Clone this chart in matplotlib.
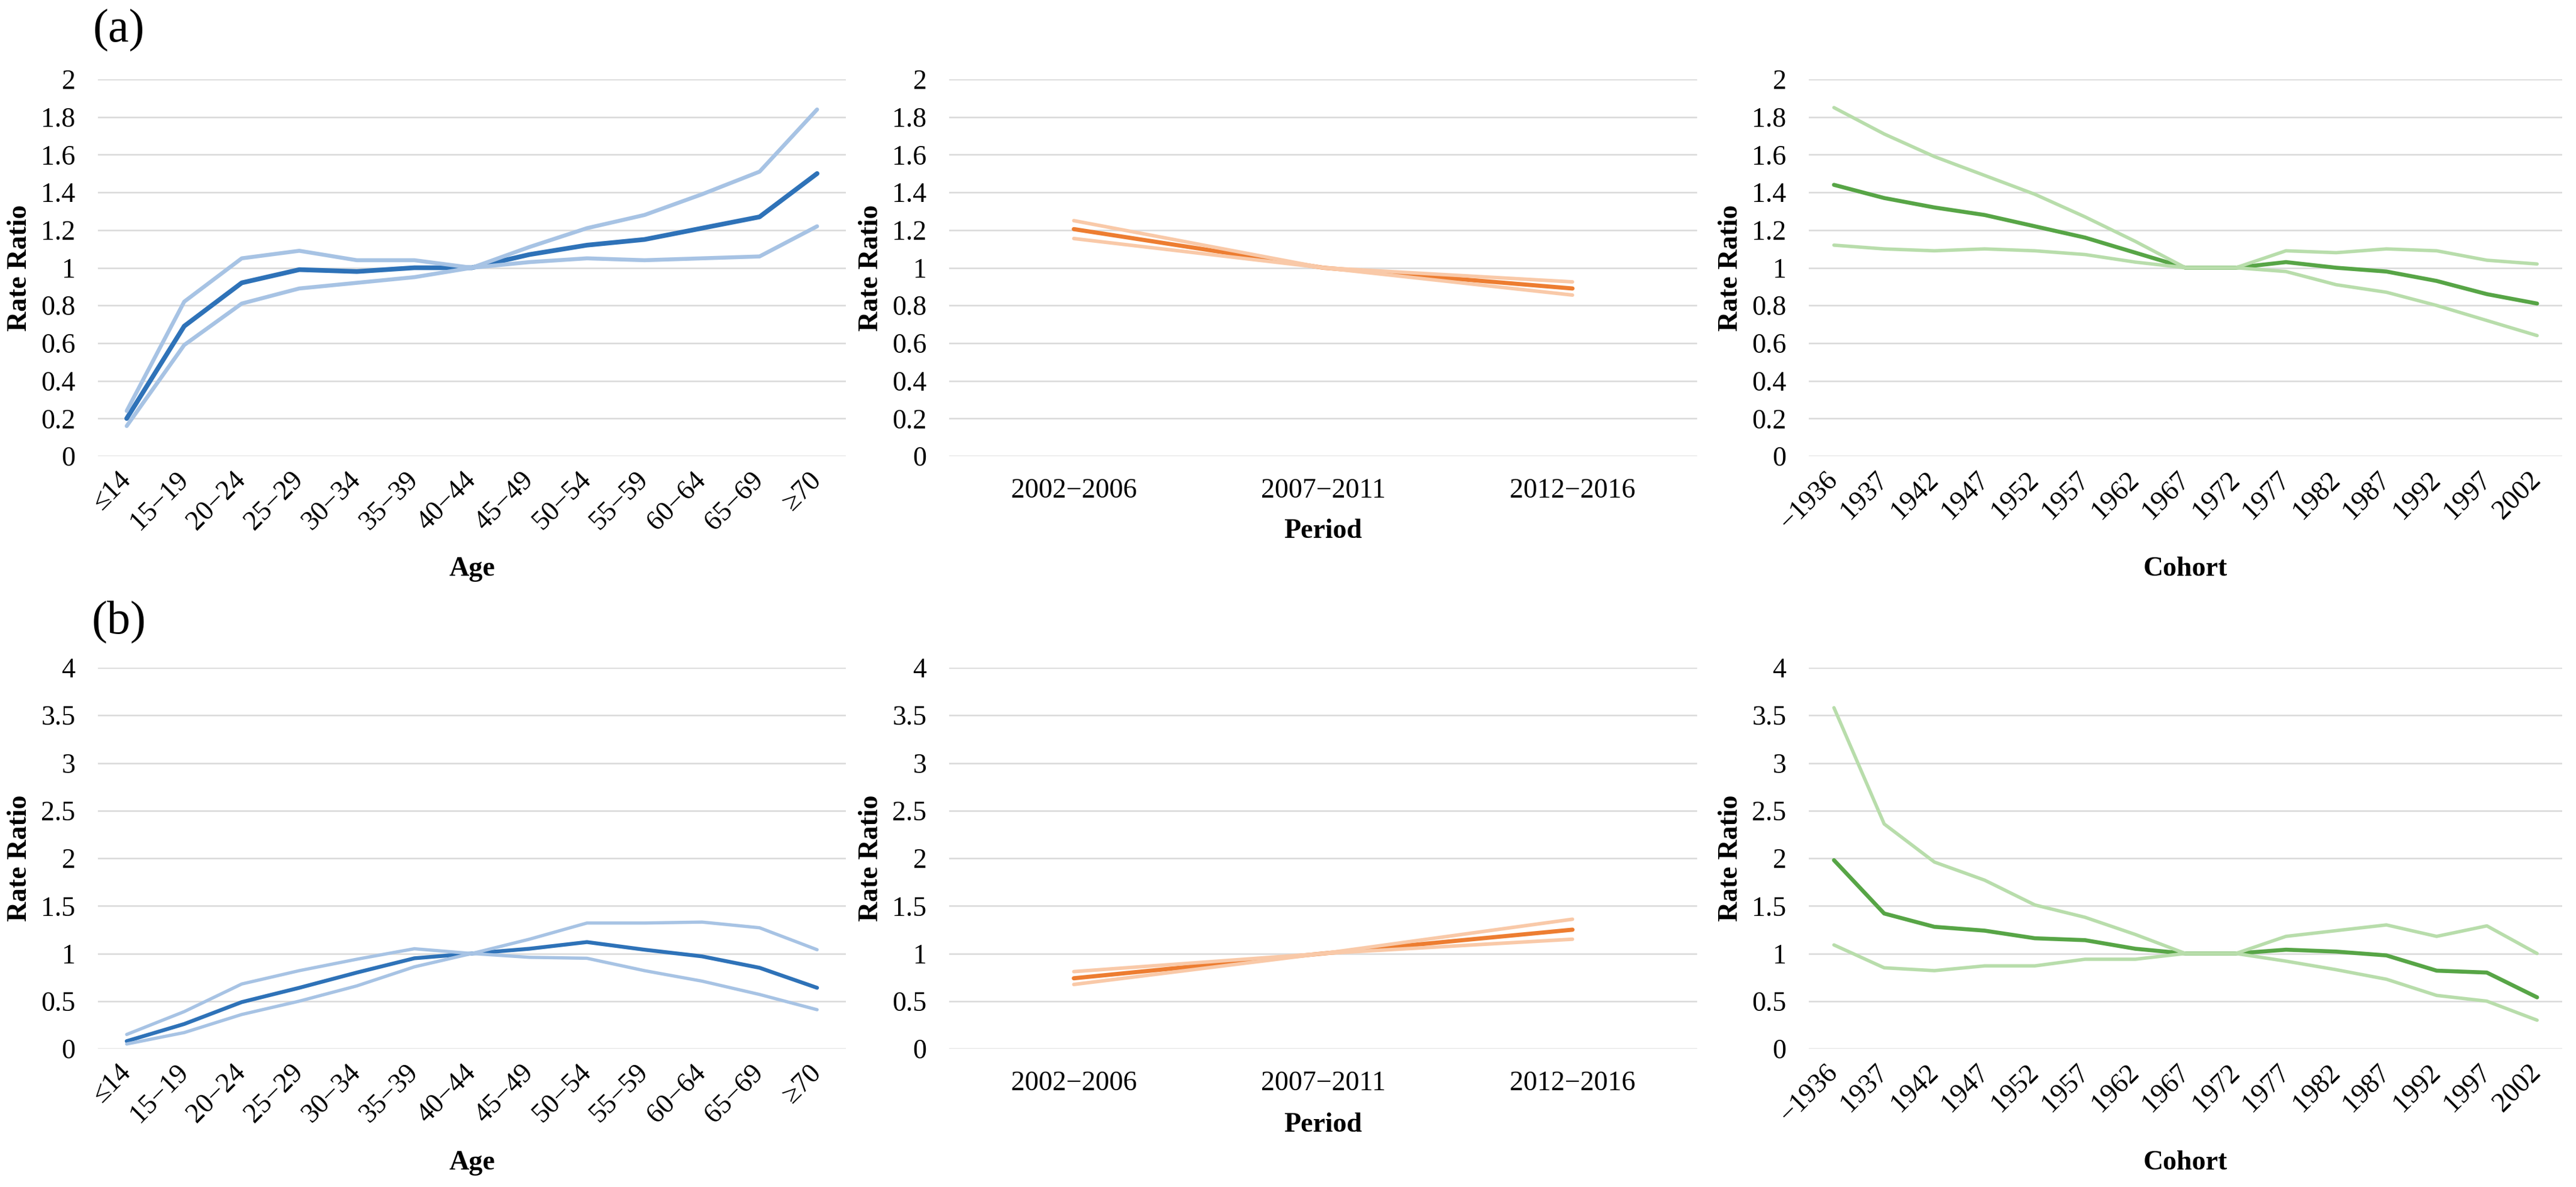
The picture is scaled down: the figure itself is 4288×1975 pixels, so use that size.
import numpy as np
import matplotlib
matplotlib.use("Agg")
import matplotlib.pyplot as plt

plt.rcParams['font.family'] = ['Liberation Serif', 'DejaVu Serif']

# categories
age_labels = ["≤14", "15−19", "20−24", "25−29", "30−34", "35−39", "40−44",
              "45−49", "50−54", "55−59", "60−64", "65−69", "≥70"]
period_labels = ["2002−2006", "2007−2011", "2012−2016"]
cohort_labels = ["−1936", "1937", "1942", "1947", "1952", "1957", "1962", "1967",
                 "1972", "1977", "1982", "1987", "1992", "1997", "2002"]

# (a) age effect
age_a_rr = [0.20, 0.69, 0.92, 0.99, 0.98, 1.00, 1.00, 1.07, 1.12, 1.15, 1.21, 1.27, 1.50]
age_a_hi = [0.24, 0.82, 1.05, 1.09, 1.04, 1.04, 1.00, 1.11, 1.21, 1.28, 1.39, 1.51, 1.84]
age_a_lo = [0.16, 0.59, 0.81, 0.89, 0.92, 0.95, 1.00, 1.03, 1.05, 1.04, 1.05, 1.06, 1.22]
# (a) period effect
per_a_rr = [1.205, 1.00, 0.89]
per_a_hi = [1.25, 1.00, 0.925]
per_a_lo = [1.155, 1.00, 0.855]
# (a) cohort effect
coh_a_rr = [1.44, 1.37, 1.32, 1.28, 1.22, 1.16, 1.08, 1.00, 1.00, 1.03, 1.00, 0.98, 0.93, 0.86, 0.81]
coh_a_hi = [1.85, 1.71, 1.59, 1.49, 1.39, 1.27, 1.14, 1.00, 1.00, 1.09, 1.08, 1.10, 1.09, 1.04, 1.02]
coh_a_lo = [1.12, 1.10, 1.09, 1.10, 1.09, 1.07, 1.03, 1.00, 1.00, 0.98, 0.91, 0.87, 0.80, 0.72, 0.64]

# (b) age effect
age_b_rr = [0.08, 0.26, 0.49, 0.64, 0.80, 0.95, 1.00, 1.05, 1.12, 1.04, 0.97, 0.85, 0.64]
age_b_hi = [0.15, 0.39, 0.68, 0.82, 0.94, 1.05, 1.00, 1.15, 1.32, 1.32, 1.33, 1.27, 1.04]
age_b_lo = [0.05, 0.17, 0.36, 0.50, 0.66, 0.86, 1.00, 0.96, 0.95, 0.82, 0.71, 0.57, 0.41]
# (b) period effect
per_b_rr = [0.74, 1.00, 1.25]
per_b_hi = [0.81, 1.00, 1.36]
per_b_lo = [0.675, 1.00, 1.15]
# (b) cohort effect
coh_b_rr = [1.98, 1.42, 1.28, 1.24, 1.16, 1.14, 1.05, 1.00, 1.00, 1.04, 1.02, 0.98, 0.82, 0.80, 0.54]
coh_b_hi = [3.58, 2.36, 1.96, 1.77, 1.51, 1.38, 1.20, 1.00, 1.00, 1.18, 1.24, 1.30, 1.18, 1.29, 1.00]
coh_b_lo = [1.09, 0.85, 0.82, 0.87, 0.87, 0.94, 0.94, 1.00, 1.00, 0.92, 0.83, 0.73, 0.56, 0.50, 0.30]

BLUE = ("#2e72b8", "#a7c3e4")
ORANGE = ("#ed7d31", "#f9c9a8")
GREEN = ("#57a546", "#b8ddab")
FS = 33

W, H = 4288, 1975
fig = plt.figure(figsize=(W / 100, H / 100), dpi=100)

# panel boxes in pixels: (left, right)
cols = [(163, 1408), (1580, 2825), (3011, 4265)]
rows = [(132, 759), (1111, 1745)]


def make_ax(row, col):
    l, r = cols[col]
    t, b = rows[row]
    return fig.add_axes([l / W, 1 - b / H, (r - l) / W, (b - t) / H])


def draw(ax, labels, rr, hi, lo, colors, ymax, ystep, xlabel, kind, lw):
    x = np.arange(len(labels))
    ax.plot(x, rr, color=colors[0], lw=lw, solid_capstyle='round', zorder=3)
    ax.plot(x, hi, color=colors[1], lw=lw * 0.85, solid_capstyle='round', zorder=4)
    ax.plot(x, lo, color=colors[1], lw=lw * 0.85, solid_capstyle='round', zorder=4)
    ax.set_xlim(-0.5, len(labels) - 0.5)
    ax.set_ylim(0, ymax)
    yt = np.arange(0, ymax + ystep / 2, ystep)
    ax.set_yticks(yt)
    ax.set_yticklabels([f"{v:g}" for v in np.round(yt, 2)], fontsize=FS)
    ax.yaxis.grid(True, color="#d9d9d9", lw=1.8)
    ax.set_axisbelow(True)
    for s in ax.spines.values():
        s.set_visible(False)
    ax.tick_params(axis='y', length=0, pad=27)
    ax.set_xticks(x)
    if kind == "rot":
        ax.set_xticklabels(labels, rotation=45, ha='right', va='center',
                           rotation_mode='anchor', fontsize=FS)
        ax.tick_params(axis='x', length=0, pad=24)
        ylab = -0.30
    else:
        ax.set_xticklabels(labels, fontsize=FS)
        ax.tick_params(axis='x', length=0, pad=26)
        ylab = -0.20
    ax.set_xlabel(xlabel, fontsize=FS, fontweight='bold', va='center')
    ax.xaxis.set_label_coords(0.5, ylab)
    ax.set_ylabel("Rate Ratio", fontsize=FS, fontweight='bold', va='center')
    ax.yaxis.set_label_coords(-130 / (ax.get_position().width * W), 0.5)


draw(make_ax(0, 0), age_labels, age_a_rr, age_a_hi, age_a_lo, BLUE, 2, 0.2, "Age", "rot", 5.6)
draw(make_ax(0, 1), period_labels, per_a_rr, per_a_hi, per_a_lo, ORANGE, 2, 0.2, "Period", "flat", 5.0)
draw(make_ax(0, 2), cohort_labels, coh_a_rr, coh_a_hi, coh_a_lo, GREEN, 2, 0.2, "Cohort", "rot", 4.8)
draw(make_ax(1, 0), age_labels, age_b_rr, age_b_hi, age_b_lo, BLUE, 4, 0.5, "Age", "rot", 4.6)
draw(make_ax(1, 1), period_labels, per_b_rr, per_b_hi, per_b_lo, ORANGE, 4, 0.5, "Period", "flat", 5.0)
draw(make_ax(1, 2), cohort_labels, coh_b_rr, coh_b_hi, coh_b_lo, GREEN, 4, 0.5, "Cohort", "rot", 4.8)

fig.text(198 / W, 1 - 51 / H, "(a)", fontsize=56, ha='center', va='center')
fig.text(198 / W, 1 - 1036 / H, "(b)", fontsize=56, ha='center', va='center')

fig.savefig("out.png", dpi=100, facecolor='white')
